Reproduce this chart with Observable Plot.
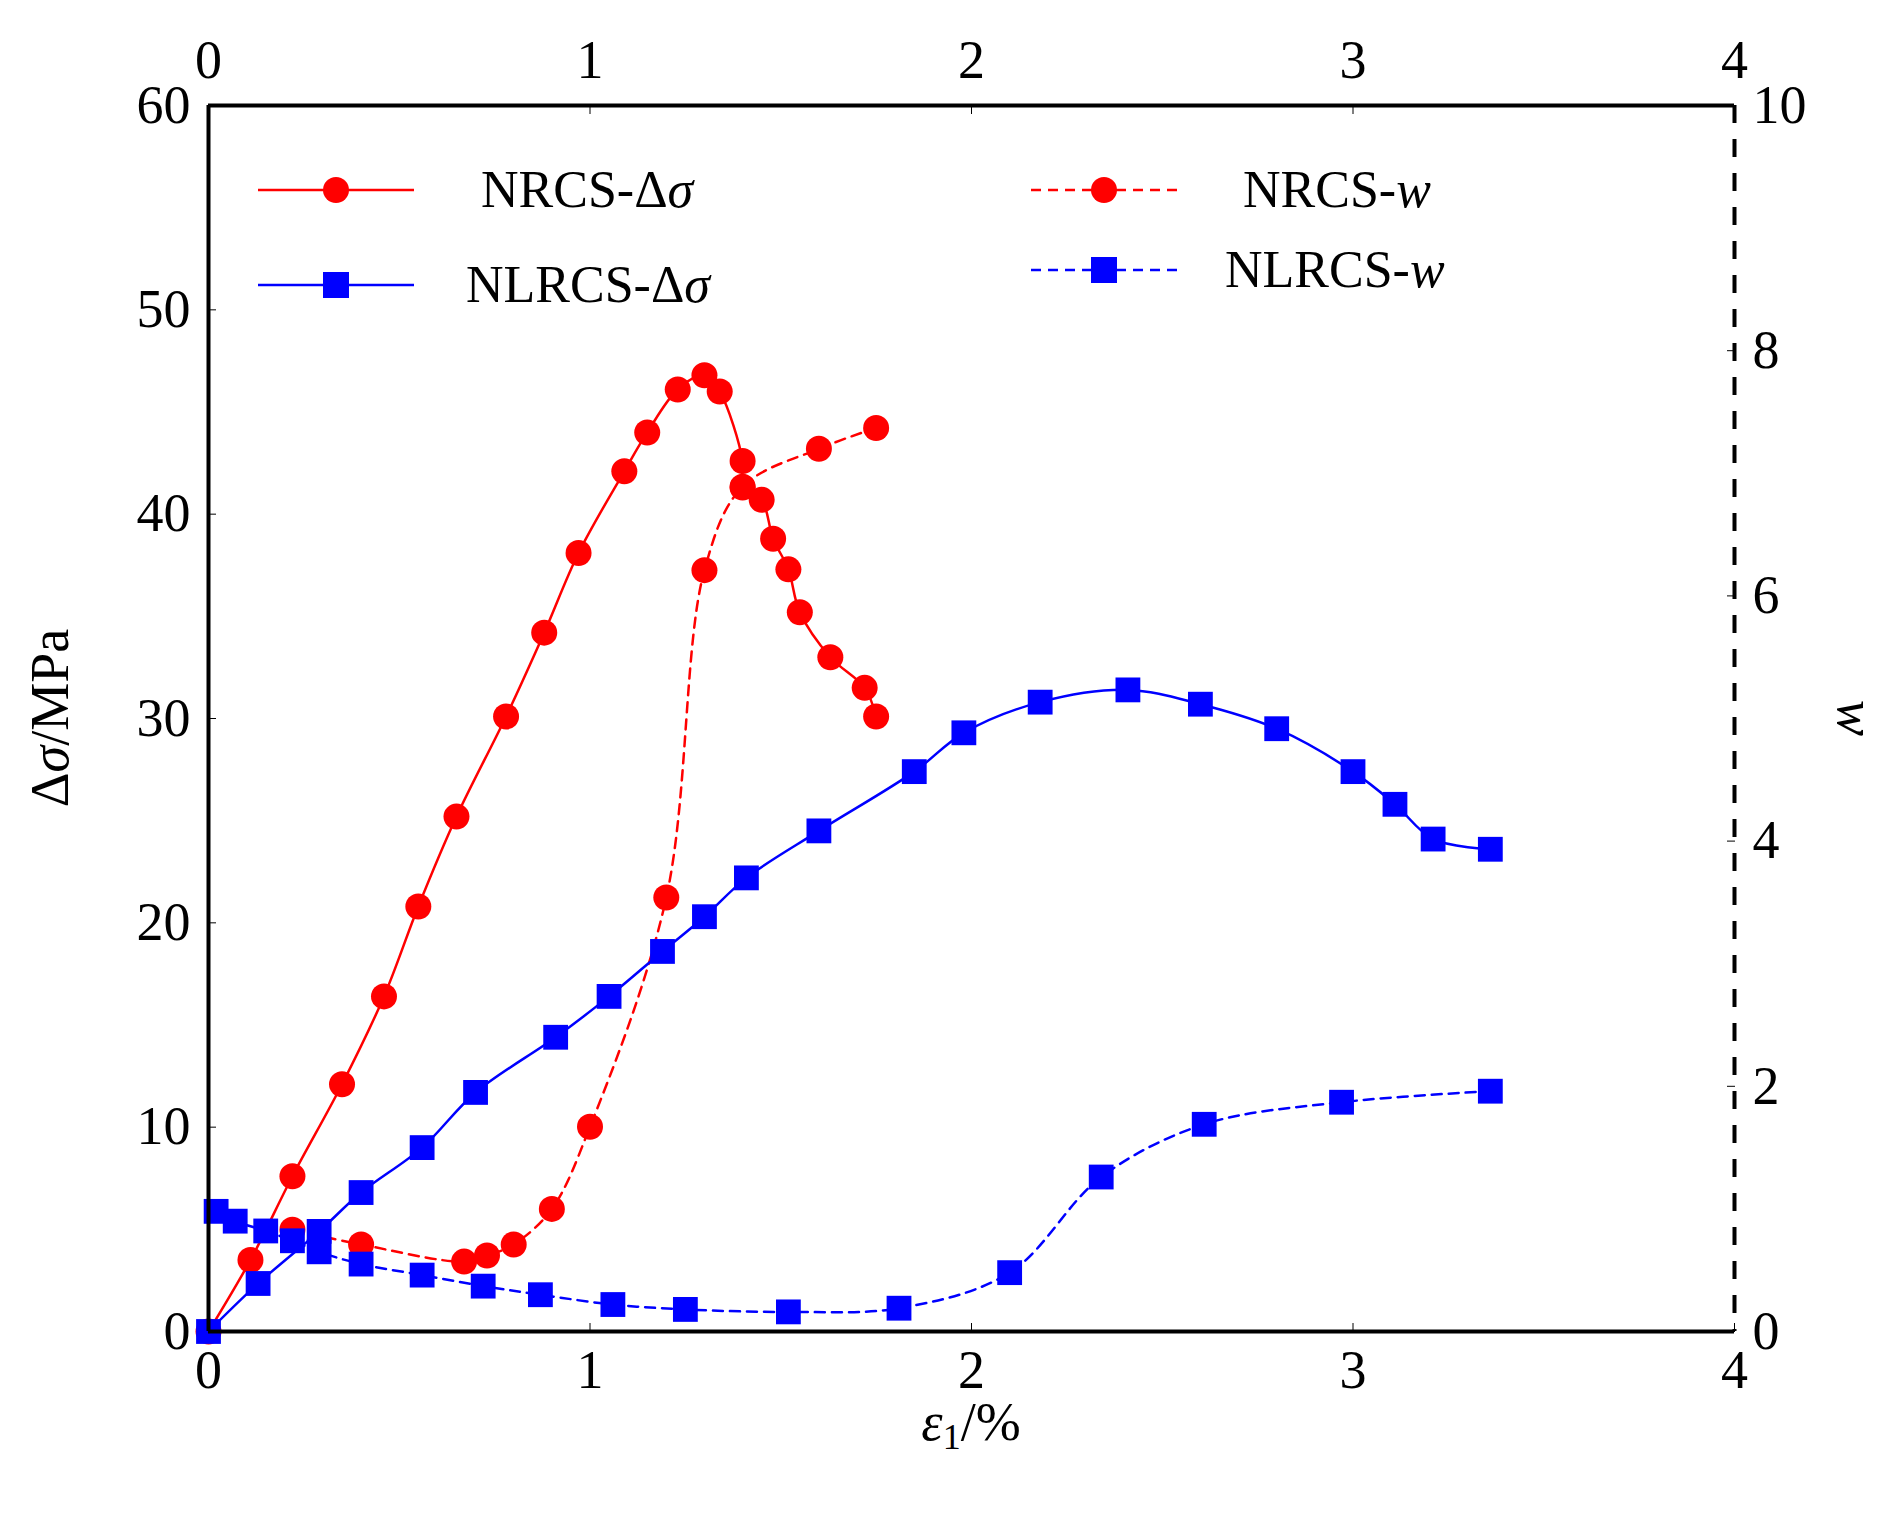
<!DOCTYPE html>
<html><head><meta charset="utf-8">
<script src="https://cdn.jsdelivr.net/npm/d3@7"></script>
<script src="https://cdn.jsdelivr.net/npm/@observablehq/plot@0.6"></script>
<style>body{margin:0;background:#fff;font-family:"Liberation Serif",serif}</style>
</head><body><div id="c"></div>
<script>
const nrcsSigmaX=[0,0.11,0.22,0.35,0.46,0.55,0.65,0.78,0.88,0.97,1.09,1.15,1.23,1.30,1.34,1.40,1.40,1.45,1.48,1.52,1.55,1.63,1.72,1.75];
const nrcsSigmaY=[0,3.5,7.6,12.1,16.4,20.8,25.2,30.1,34.2,38.1,42.1,44.0,46.1,46.8,46.0,42.6,41.3,40.7,38.8,37.3,35.2,33.0,31.5,30.1];
const nrcsWX=[0.22,0.40,0.67,0.73,0.80,0.90,1.00,1.20,1.30,1.40,1.60,1.75];
const nrcsW=[0.83,0.71,0.57,0.62,0.71,1.0,1.67,3.54,6.21,6.89,7.2,7.37];
const nlrcsSigmaX=[0,0.13,0.29,0.40,0.56,0.70,0.91,1.05,1.19,1.30,1.41,1.60,1.85,1.98,2.18,2.41,2.60,2.80,3.00,3.11,3.21,3.36];
const nlrcsSigmaY=[0,2.35,4.9,6.8,9.0,11.7,14.4,16.4,18.6,20.3,22.2,24.5,27.4,29.3,30.8,31.4,30.7,29.5,27.4,25.8,24.1,23.6];
const nlrcsWX=[0.02,0.07,0.15,0.22,0.29,0.40,0.56,0.72,0.87,1.06,1.25,1.52,1.81,2.10,2.34,2.61,2.97,3.36];
const nlrcsW=[0.98,0.90,0.82,0.74,0.65,0.55,0.46,0.37,0.30,0.22,0.18,0.16,0.19,0.48,1.26,1.69,1.87,1.96];
const xTicks=[0,1,2,3,4], yTicks=[0,10,20,30,40,50,60], wTicks=[0,2,4,6,8,10];
const K=6;
const zip=(xs,ys,k=1)=>xs.map((x,i)=>({x,y:ys[i]*k}));
const A=zip(nrcsSigmaX,nrcsSigmaY),B=zip(nrcsWX,nrcsW,K),C=zip(nlrcsSigmaX,nlrcsSigmaY),D=zip(nlrcsWX,nlrcsW,K);
const RED="#ff0000",BLUE="#0000ff",F="Liberation Serif";
const fmt=d=>String(d);
const p=Plot.plot({width:1884,height:1529,marginLeft:208,marginRight:150,marginTop:105,marginBottom:198,
 style:{fontFamily:F,fontSize:"54px",color:"#000"},
 x:{domain:[0,4]},y:{domain:[0,60]},
 marks:[
  Plot.line(A,{x:"x",y:"y",stroke:RED,strokeWidth:2.5,curve:"catmull-rom"}),
  Plot.line(B,{x:"x",y:"y",stroke:RED,strokeWidth:2.5,strokeDasharray:"10,7",curve:"catmull-rom"}),
  Plot.line(C,{x:"x",y:"y",stroke:BLUE,strokeWidth:2.5,curve:"catmull-rom"}),
  Plot.line(D,{x:"x",y:"y",stroke:BLUE,strokeWidth:2.5,strokeDasharray:"10,7",curve:"catmull-rom"}),
  Plot.dot(A,{x:"x",y:"y",r:13,fill:RED}),
  Plot.dot(B,{x:"x",y:"y",r:13,fill:RED}),
  Plot.dot(C,{x:"x",y:"y",r:14,symbol:"square",fill:BLUE}),
  Plot.dot(D,{x:"x",y:"y",r:14,symbol:"square",fill:BLUE}),
  Plot.ruleX([0],{strokeWidth:4}),
  Plot.ruleY([0],{strokeWidth:4}),
  Plot.ruleY([60],{strokeWidth:4}),
  Plot.ruleX([4],{strokeWidth:4,strokeDasharray:"18,16"}),
  Plot.axisX({ticks:xTicks,tickFormat:fmt,tickSize:-8,tickPadding:26,label:null,fontSize:54}),
  Plot.axisX({anchor:"top",ticks:xTicks,tickFormat:fmt,tickSize:-8,tickPadding:36,label:null,fontSize:54}),
  Plot.axisY({ticks:yTicks,tickFormat:fmt,tickSize:-8,tickPadding:26,label:null,fontSize:54}),
  Plot.axisY({anchor:"right",ticks:wTicks.map(w=>w*K),tickFormat:d=>String(d/K),tickSize:-8,tickPadding:26,label:null,fontSize:54})
 ]});
document.getElementById("c").appendChild(p);
const s=d3.select(p);
s.append("text").attr("transform","translate(68,718) rotate(-90)").attr("text-anchor","middle").attr("font-size",54).attr("font-family",F)
 .html('Δ<tspan font-style="italic">σ</tspan>/MPa');
s.append("text").attr("transform","translate(1838,718) rotate(90)").attr("text-anchor","middle").attr("font-size",54).attr("font-family",F).attr("font-style","italic").text("w");
s.append("text").attr("x",971).attr("y",1440).attr("text-anchor","middle").attr("font-size",54).attr("font-family",F)
 .html('<tspan font-style="italic">ε</tspan><tspan font-size="36" dy="9">1</tspan><tspan dy="-9">/%</tspan>');
const leg=[
 {x1:258,x2:414,y:190,tx:481,c:RED,sym:"c",dash:null,label:'NRCS-Δ<tspan font-style="italic">σ</tspan>'},
 {x1:258,x2:414,y:285,tx:466,c:BLUE,sym:"s",dash:null,label:'NLRCS-Δ<tspan font-style="italic">σ</tspan>'},
 {x1:1031,x2:1177,y:190,tx:1243,c:RED,sym:"c",dash:"10,7",label:'NRCS-<tspan font-style="italic">w</tspan>'},
 {x1:1031,x2:1177,y:270,tx:1225,c:BLUE,sym:"s",dash:"10,7",label:'NLRCS-<tspan font-style="italic">w</tspan>'}];
leg.forEach(l=>{
 s.append("line").attr("x1",l.x1).attr("x2",l.x2).attr("y1",l.y).attr("y2",l.y).attr("stroke",l.c).attr("stroke-width",2.5).attr("stroke-dasharray",l.dash);
 const m=(l.x1+l.x2)/2;
 if(l.sym==="c") s.append("circle").attr("cx",m).attr("cy",l.y).attr("r",13).attr("fill",l.c);
 else s.append("rect").attr("x",m-13).attr("y",l.y-13).attr("width",26).attr("height",26).attr("fill",l.c);
 s.append("text").attr("x",l.tx).attr("y",l.y+17).attr("text-anchor","start").attr("font-size",52).attr("font-family",F).html(l.label);
});
</script></body></html>
